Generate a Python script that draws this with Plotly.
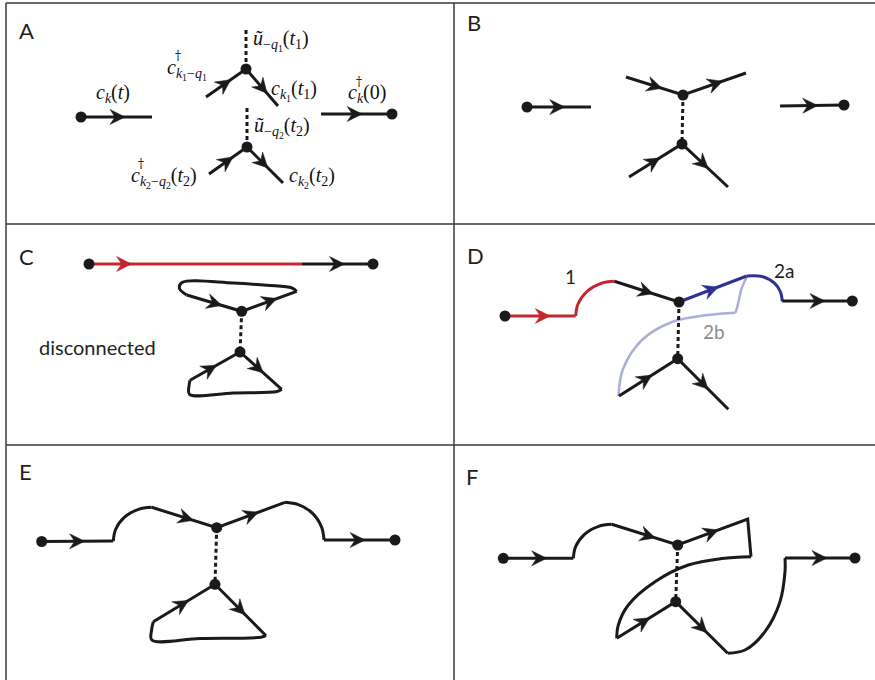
import plotly.graph_objects as go

BLACK = "#1a1a1a"
RED = "#c1272d"
BLUE = "#2e3192"
LIGHTBLUE = "#a9aedb"
FRAME = "#3a3a3a"

# ---------------- frame of the 2x3 grid ----------------
frame_lines = [[(6, 3), (875, 3)], [(6, 3), (6, 680)], [(454, 3), (454, 680)],
               [(6, 224), (875, 224)], [(6, 445), (875, 445)]]

panel_letters = ["A", "B", "C", "D", "E", "F"]
panel_letter_pos = [(26, 30), (474, 22), (26, 256), (475, 255), (25, 471), (472, 476)]

# ---------------- Panel A ----------------
A_solid = [[(81, 117), (152, 117)], [(206, 97), (246, 69), (278, 106)],
           [(209, 174), (247, 147), (283, 183)], [(321, 114), (392, 114)]]
A_dashed = [[(246, 30), (246, 69)], [(247, 108), (247, 147)]]
A_dots = [(81, 117), (246, 69), (247, 147), (392, 114)]
A_arrows = [(81, 117, 152, 117, 0.62), (206, 97, 246, 69, 0.62), (246, 69, 278, 106, 0.66),
            (209, 174, 247, 147, 0.63), (247, 147, 283, 183, 0.58), (321, 114, 392, 114, 0.58)]

# ---------------- Panel B ----------------
B_solid = [[(527, 107), (591, 107)], [(626, 77), (683, 95), (746, 73)],
           [(629, 177), (682, 144), (728, 187)], [(780, 106), (844, 105)]]
B_dashed = [[(683, 95), (682, 144)]]
B_dots = [(527, 107), (683, 95), (682, 144), (844, 105)]
B_arrows = [(527, 107, 591, 107, 0.59), (626, 77, 683, 95, 0.63), (683, 95, 746, 73, 0.63),
            (629, 177, 682, 144, 0.58), (682, 144, 728, 187, 0.57), (780, 106, 844, 105, 0.59)]

# ---------------- Panel C ----------------
C_red = [[(89, 264), (302, 264)]]
C_solid = [[(302, 264), (373, 264)], [(186.7, 295), (241.7, 311.3), (296.7, 291.3)],
           [(190, 380.3), (240, 352), (281.7, 389.3)]]
C_curves = [[(296.7, 291.3), (292, 288), (267, 285.3), (233, 283), (182, 282.5), (179.5, 288.5), (186.7, 295)],
            [(281.7, 389.3), (277, 391.5), (233, 393), (189.5, 394.3), (189, 386), (190, 380.3)]]
C_dashed = [[(241.7, 311.3), (240, 352)]]
C_dots = [(89, 264), (373, 264), (241.7, 311.3), (240, 352)]
C_red_arrows = [(89, 264, 302, 264, 0.2)]
C_arrows = [(302, 264, 373, 264, 0.6), (186.7, 295, 241.7, 311.3, 0.64), (241.7, 311.3, 296.7, 291.3, 0.64),
            (190, 380.3, 240, 352, 0.53), (240, 352, 281.7, 389.3, 0.56)]
C_text = ("disconnected", (97.5, 347))

# ---------------- Panel D ----------------
D_light = [[(746.7, 277), (741.5, 289), (738, 304), (735.5, 312.7)],
           [(735.5, 312.7), (708, 315), (672, 322), (642, 340), (623, 369), (618.5, 396)]]
D_red = [[(505, 316), (575.7, 316)]]
D_red_curve = [[(575.7, 316), (578, 304), (587, 291.5), (601, 283.4), (614.3, 281.3)]]
D_blue = [[(679, 302), (746.7, 276)]]
D_blue_curve = [[(746.7, 276), (762, 276.5), (775, 283.7), (780.5, 292), (782.3, 301.3)]]
D_solid = [[(614.3, 281.3), (679, 302)], [(782.3, 301), (852.3, 301)],
           [(619, 396), (677.7, 358.7), (728.3, 409.3)]]
D_dashed = [[(679, 302), (677.7, 358.7)]]
D_dots = [(505, 316), (679, 302), (677.7, 358.7), (852.3, 301)]
D_red_arrows = [(505, 316, 575.7, 316, 0.64)]
D_blue_arrows = [(679, 302, 746.7, 276, 0.58)]
D_arrows = [(614.3, 281.3, 679, 302, 0.6), (782.3, 301, 852.3, 301, 0.61),
            (619, 396, 677.7, 358.7, 0.56), (677.7, 358.7, 728.3, 409.3, 0.6)]
D_labels = [("1", (570, 276), "#231f20"), ("2a", (784, 270), "#231f20"), ("2b", (714, 331), "#8c8c8c")]

# ---------------- Panel E ----------------
E_solid = [[(41.7, 541.5), (113.3, 541)], [(151.7, 507.3), (216.7, 527.7), (285, 502.3)],
           [(324, 540), (395, 540)], [(153.3, 621.7), (215, 584.3), (266, 635.7)]]
E_curves = [[(113.3, 541), (115.6, 529.5), (124.5, 517.2), (138.6, 509.3), (151.7, 507.3)],
            [(285, 502.3), (298.3, 504.6), (312.6, 513.3), (321.6, 527.1), (324, 540)],
            [(266, 635.7), (261, 637.2), (200, 638.6), (151.8, 640), (151.6, 630), (153.3, 621.7)]]
E_dashed = [[(216.7, 527.7), (215, 584.3)]]
E_dots = [(41.7, 541.5), (216.7, 527.7), (215, 584.3), (395, 540)]
E_arrows = [(41.7, 541.5, 113.3, 541, 0.6), (151.7, 507.3, 216.7, 527.7, 0.64),
            (216.7, 527.7, 285, 502.3, 0.61), (324, 540, 395, 540, 0.58),
            (153.3, 621.7, 215, 584.3, 0.57), (215, 584.3, 266, 635.7, 0.59)]

# ---------------- Panel F ----------------
F_solid = [[(503.3, 558.3), (573.3, 558.3)], [(611.7, 524.3), (677.7, 545), (747.7, 519), (751, 556.7)],
           [(616.7, 638.3), (675.7, 601.7), (727.7, 653.3)], [(785, 558), (855, 558)]]
F_curves = [[(573.3, 558.3), (575.6, 546.7), (584.5, 534.3), (598.6, 526.3), (611.7, 524.3)],
            [(751, 556.7), (721.7, 558.5), (688.3, 565), (655, 581.7), (628.3, 605), (618.3, 625), (616.7, 638.3)],
            [(727.7, 653.3), (745, 650), (765, 631.7), (780, 601.7), (785, 571.7), (785, 558)]]
F_dashed = [[(677.7, 545), (675.7, 601.7)]]
F_dots = [(503.3, 558.3), (677.7, 545), (675.7, 601.7), (855, 558)]
F_arrows = [(503.3, 558.3, 573.3, 558.3, 0.62), (611.7, 524.3, 677.7, 545, 0.66),
            (677.7, 545, 747.7, 519, 0.58), (616.7, 638.3, 675.7, 601.7, 0.56),
            (675.7, 601.7, 727.7, 653.3, 0.6), (785, 558, 855, 558, 0.6)]

# ---------------- Panel A math labels ----------------
A_math = [
    ("<i>c</i><sub><i>k</i></sub>(<i>t</i>)", (94, 93), None),
    ("<i>c</i><sub><i>k</i><sub>1</sub>−<i>q</i><sub>1</sub></sub>", (165, 69), (178, 56)),
    ("<i>ũ</i><sub>−<i>q</i><sub>1</sub></sub>(<i>t</i><sub>1</sub>)", (251, 40), None),
    ("<i>c</i><sub><i>k</i><sub>1</sub></sub>(<i>t</i><sub>1</sub>)", (269, 90), None),
    ("<i>ũ</i><sub>−<i>q</i><sub>2</sub></sub>(<i>t</i><sub>2</sub>)", (252, 127), None),
    ("<i>c</i><sub><i>k</i><sub>2</sub>−<i>q</i><sub>2</sub></sub>(<i>t</i><sub>2</sub>)", (129, 177), (141, 164)),
    ("<i>c</i><sub><i>k</i><sub>2</sub></sub>(<i>t</i><sub>2</sub>)", (287, 177), None),
    ("<i>c</i><sub><i>k</i></sub>(0)", (346, 93), (359, 82)),
]

fig = go.Figure()


def add_lines(paths, color, width=3.0, dash=None, shape="linear"):
    for p in paths:
        fig.add_trace(go.Scatter(x=[q[0] for q in p], y=[q[1] for q in p], mode="lines",
                                 line=dict(color=color, width=width, dash=dash, shape=shape),
                                 hoverinfo="skip"))


def arrow_poly(x0, y0, x1, y1, f, L=15.0, W=7.5, N=5.0):
    dx, dy = x1 - x0, y1 - y0
    d = (dx * dx + dy * dy) ** 0.5
    ux, uy = dx / d, dy / d
    nx, ny = -uy, ux
    tx, ty = x0 + f * dx, y0 + f * dy
    bx, by = tx - L * ux, ty - L * uy
    cx, cy = tx - (L - N) * ux, ty - (L - N) * uy
    return [(tx, ty), (bx + W * nx, by + W * ny), (cx, cy), (bx - W * nx, by - W * ny), (tx, ty)]


def add_arrows(arrows, color):
    xs, ys = [], []
    for a in arrows:
        for q in arrow_poly(*a):
            xs.append(q[0])
            ys.append(q[1])
        xs.append(None)
        ys.append(None)
    fig.add_trace(go.Scatter(x=xs, y=ys, mode="lines", fill="toself", fillcolor=color,
                             line=dict(color=color, width=0.5), hoverinfo="skip"))


def add_dots(dots):
    fig.add_trace(go.Scatter(x=[d[0] for d in dots], y=[d[1] for d in dots], mode="markers",
                             marker=dict(color=BLACK, size=11, line=dict(width=0)), hoverinfo="skip"))


# frame
add_lines(frame_lines, FRAME, width=1.5)

DASH = "4px,3px"

# Panel A
add_lines(A_solid, BLACK)
add_lines(A_dashed, BLACK, dash=DASH)
add_arrows(A_arrows, BLACK)
add_dots(A_dots)

# Panel B
add_lines(B_solid, BLACK)
add_lines(B_dashed, BLACK, dash=DASH)
add_arrows(B_arrows, BLACK)
add_dots(B_dots)

# Panel C
add_lines(C_red, RED)
add_lines(C_solid, BLACK)
add_lines(C_curves, BLACK, shape="spline")
add_lines(C_dashed, BLACK, dash=DASH)
add_arrows(C_red_arrows, RED)
add_arrows(C_arrows, BLACK)
add_dots(C_dots)

# Panel D
add_lines(D_light, LIGHTBLUE, width=2.5, shape="spline")
add_lines(D_red, RED)
add_lines(D_red_curve, RED, shape="spline")
add_lines(D_blue, BLUE)
add_lines(D_blue_curve, BLUE, shape="spline")
add_lines(D_solid, BLACK)
add_lines(D_dashed, BLACK, dash=DASH)
add_arrows(D_red_arrows, RED)
add_arrows(D_blue_arrows, BLUE)
add_arrows(D_arrows, BLACK)
add_dots(D_dots)

# Panel E
add_lines(E_solid, BLACK)
add_lines(E_curves, BLACK, shape="spline")
add_lines(E_dashed, BLACK, dash=DASH)
add_arrows(E_arrows, BLACK)
add_dots(E_dots)

# Panel F
add_lines(F_solid, BLACK)
add_lines(F_curves, BLACK, shape="spline")
add_lines(F_dashed, BLACK, dash=DASH)
add_arrows(F_arrows, BLACK)
add_dots(F_dots)

annotations = []
SANS = "Lato, Open Sans, sans-serif"
SERIF = "Liberation Serif, Times New Roman, serif"
for letter, (x, y) in zip(panel_letters, panel_letter_pos):
    annotations.append(dict(x=x, y=y, text=letter, showarrow=False, xref="x", yref="y",
                            xanchor="center", yanchor="middle",
                            font=dict(family=SANS, size=22, color="#231f20")))
annotations.append(dict(x=C_text[1][0], y=C_text[1][1], text=C_text[0], showarrow=False,
                        xref="x", yref="y", xanchor="center", yanchor="middle",
                        font=dict(family=SANS, size=20, color="#231f20")))
for txt, (x, y), col in D_labels:
    annotations.append(dict(x=x, y=y, text=txt, showarrow=False, xref="x", yref="y",
                            xanchor="center", yanchor="middle",
                            font=dict(family=SANS, size=19, color=col)))
for txt, (x, y), dag in A_math:
    annotations.append(dict(x=x, y=y, text=txt, showarrow=False, xref="x", yref="y",
                            xanchor="left", yanchor="middle",
                            font=dict(family=SERIF, size=20, color="#111111")))
    if dag is not None:
        annotations.append(dict(x=dag[0], y=dag[1], text="†", showarrow=False, xref="x", yref="y",
                                xanchor="center", yanchor="middle",
                                font=dict(family="DejaVu Serif", size=12, color="#111111")))

fig.update_layout(
    width=875, height=680, margin=dict(l=0, r=0, t=0, b=0),
    paper_bgcolor="white", plot_bgcolor="white", showlegend=False, hovermode=False,
    xaxis=dict(range=[0, 875], visible=False, fixedrange=True),
    yaxis=dict(range=[680, 0], visible=False, fixedrange=True),
    annotations=annotations,
)

fig.write_html("out.html", config={"displayModeBar": False},
               post_script="document.body.style.margin='0';document.body.style.padding='0';")
